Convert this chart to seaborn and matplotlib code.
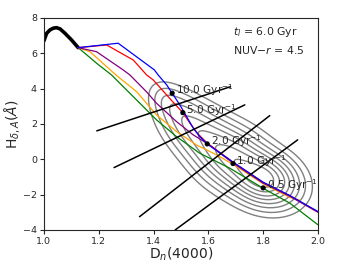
import numpy as np
import matplotlib
matplotlib.use("Agg")
import matplotlib.pyplot as plt
import seaborn as sns

# ---------------- data ----------------
# thick black curve (early phase)
early_x = [1.000, 1.010, 1.022, 1.034, 1.046, 1.059, 1.077, 1.101, 1.125]
early_y = [6.70, 7.13, 7.32, 7.42, 7.45, 7.38, 7.13, 6.75, 6.32]

blue_x = [1.125, 1.271, 1.403, 1.417, 1.448, 1.468, 1.496, 1.521, 1.545, 1.569, 1.596, 1.691, 1.800, 1.898, 2.000]
blue_y = [6.32, 6.57, 5.06, 4.77, 4.21, 3.74, 3.08, 2.41, 1.76, 1.28, 0.87, -0.17, -1.30, -2.06, -2.96]

red_x = [1.125, 1.229, 1.326, 1.375, 1.399, 1.448, 1.464, 1.507, 1.533, 1.562, 1.595, 1.691, 1.800, 1.898, 2.000]
red_y = [6.32, 6.47, 5.62, 4.77, 4.49, 3.64, 3.36, 2.64, 2.04, 1.44, 0.93, -0.18, -1.31, -2.07, -2.98]

purple_x = [1.125, 1.192, 1.289, 1.314, 1.375, 1.411, 1.484, 1.545, 1.594, 1.690, 1.799, 1.898, 2.000]
purple_y = [6.32, 6.09, 5.06, 4.77, 3.81, 3.17, 2.13, 1.38, 0.91, -0.21, -1.34, -2.10, -3.00]

orange_x = [1.125, 1.168, 1.263, 1.338, 1.411, 1.484, 1.557, 1.630, 1.691, 1.800, 1.898, 1.934]
orange_y = [6.32, 6.09, 4.77, 3.83, 2.51, 1.57, 0.81, 0.25, -0.29, -1.39, -2.16, -2.32]

green_x = [1.125, 1.192, 1.247, 1.338, 1.411, 1.484, 1.569, 1.679, 1.800, 1.898, 2.000]
green_y = [6.32, 5.44, 4.77, 3.36, 2.23, 1.28, 0.34, -0.51, -1.64, -2.49, -3.71]

track_colors = ["green", "orange", "purple", "red", "blue"]

# straight black lines (start, end)
seg_x0 = [1.193, 1.256, 1.349, 1.479]
seg_y0 = [1.61, -0.47, -3.25, -4.00]
seg_x1 = [1.681, 1.733, 1.824, 1.926]
seg_y1 = [4.11, 3.08, 2.47, 1.10]

# marked points
dot_x = [1.468, 1.507, 1.596, 1.690, 1.800]
dot_y = [3.74, 2.64, 0.87, -0.24, -1.62]
dot_labels = ["10.0 Gyr$^{-1}$", "5.0 Gyr$^{-1}$", "2.0 Gyr$^{-1}$", "1.0 Gyr$^{-1}$", "0.5 Gyr$^{-1}$"]

# galaxy density: mixture components (centre x, centre y, weight)
comp_x = [1.807, 1.686, 1.572, 1.492, 1.445]
comp_y = [-1.17, 0.08, 1.50, 2.68, 3.38]
comp_w = [1.0, 0.75, 0.45, 0.22, 0.08]
contour_levels = [0.045, 0.1, 0.18, 0.28, 0.4, 0.53, 0.68, 0.83]

# ---------------- plotting ----------------
sns.set_style("ticks")
plt.rcParams["font.family"] = ["DejaVu Sans"]
plt.rcParams["mathtext.fontset"] = "dejavusans"

fig, ax = plt.subplots(figsize=(3.43, 2.64), dpi=100)
fig.subplots_adjust(left=0.128, right=0.927, top=0.932, bottom=0.129)

# density contours (shape computed in display-scaled space)
sx, sy = 274.0, 17.67
angles = [np.arctan(0.35), np.arctan(0.5), np.arctan(0.7), np.arctan(1.0), np.arctan(1.2)]
sig_a = [20.0, 22.0, 22.0, 18.0, 12.0]
sig_p = [15.0, 17.0, 15.0, 12.0, 8.0]
gx = np.linspace(1.0, 2.0, 500)
gy = np.linspace(-4.0, 8.0, 500)
GX, GY = np.meshgrid(gx, gy)
U = (GX - 1.0) * sx
V = (8.0 - GY) * sy
Z = np.zeros_like(U)
for cx, cy, w, th, sa, sp in zip(comp_x, comp_y, comp_w, angles, sig_a, sig_p):
    du = U - (cx - 1.0) * sx
    dv = V - (8.0 - cy) * sy
    a = du * np.cos(th) + dv * np.sin(th)
    p = -du * np.sin(th) + dv * np.cos(th)
    Z += w * np.exp(-0.5 * ((a / sa) ** 2 + (p / sp) ** 2))
Z /= Z.max()
ax.contour(GX, GY, Z, levels=contour_levels, colors="gray", linewidths=1.0)

sns.lineplot(x=early_x, y=early_y, color="black", lw=2.6, sort=False, estimator=None, ax=ax)
for xs, ys, c in zip([green_x, orange_x, purple_x, red_x, blue_x],
                     [green_y, orange_y, purple_y, red_y, blue_y], track_colors):
    sns.lineplot(x=xs, y=ys, color=c, lw=0.9, sort=False, estimator=None, ax=ax)

for x0, y0, x1, y1 in zip(seg_x0, seg_y0, seg_x1, seg_y1):
    sns.lineplot(x=[x0, x1], y=[y0, y1], color="black", lw=1.1, sort=False, estimator=None, ax=ax)

sns.scatterplot(x=dot_x, y=dot_y, color="black", s=14, edgecolor="none", ax=ax, zorder=5)
for x, y, t in zip(dot_x, dot_y, dot_labels):
    ax.annotate(t, xy=(x, y), xytext=(2.5, 2.0), textcoords="offset points",
                fontsize=7.6, va="center", ha="left")

ax.text(0.69, 0.935, "$t_l$ = 6.0 Gyr", transform=ax.transAxes, fontsize=7.8, va="center")
ax.text(0.69, 0.849, "NUV$-r$ = 4.5", transform=ax.transAxes, fontsize=7.8, va="center")

ax.set_xlim(1.0, 2.0)
ax.set_ylim(-4, 8)
ax.set_xticks([1.0, 1.2, 1.4, 1.6, 1.8, 2.0])
ax.set_yticks([-4, -2, 0, 2, 4, 6, 8])
ax.tick_params(labelsize=6.8, length=3, width=0.8, pad=2)
ax.set_xlabel("D$_n$(4000)", fontsize=10, labelpad=0)
ax.set_ylabel(r"H$_{\delta,A}$($\AA$)", fontsize=10, labelpad=1)
for s in ax.spines.values():
    s.set_linewidth(0.8)

fig.savefig("out.png", dpi=100)
